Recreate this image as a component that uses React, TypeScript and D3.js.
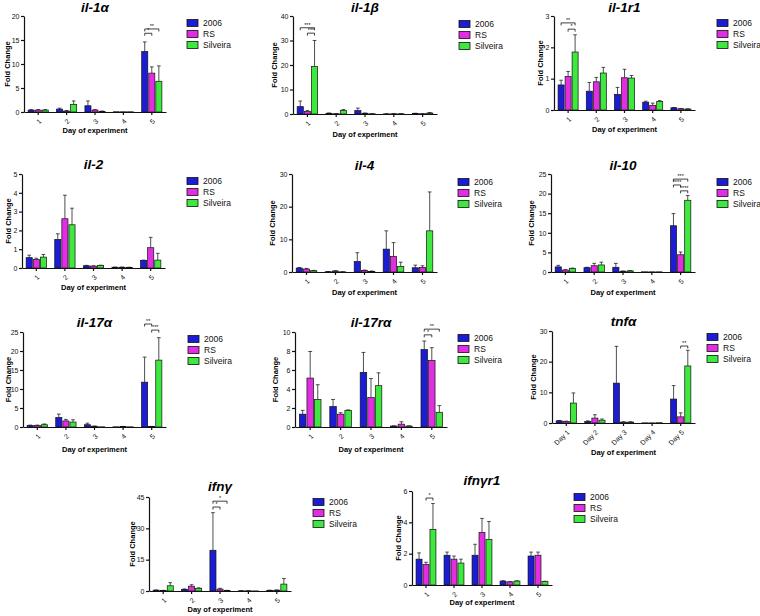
import React, { useEffect, useRef } from 'react';
import * as d3 from 'd3';

const groups = ['2006', 'RS', 'Silveira'];
const colors = ['#1c1cd4', '#e22ee2', '#3ee83e'];
const dayLabels = ['1', '2', '3', '4', '5'];
const tnfDayLabels = ['Day 1', 'Day 2', 'Day 3', 'Day 4', 'Day 5'];

// means per series (2006, RS, Silveira) x day, and top of error bar
const il1aMean = [[0.4, 0.6, 1.3, 0.05, 12.6], [0.4, 0.2, 0.4, 0.05, 8.1], [0.4, 1.6, 0.1, 0.05, 6.4]];
const il1aUpper = [[0.5, 0.8, 2.3, 0.05, 14.6], [0.5, 0.3, 0.5, 0.05, 9.4], [0.5, 2.3, 0.2, 0.05, 9.6]];
const il1bMean = [[3.0, 0.3, 1.4, 0.05, 0.2], [1.0, 0.1, 0.3, 0.1, 0.1], [19.4, 1.4, 0.1, 0.1, 0.4]];
const il1bUpper = [[5.3, 0.4, 2.4, 0.1, 0.3], [1.4, 0.2, 0.4, 0.15, 0.15], [30, 1.8, 0.15, 0.15, 0.6]];
const il1r1Mean = [[0.8, 0.6, 0.5, 0.25, 0.07], [1.07, 0.9, 1.03, 0.15, 0.04], [1.85, 1.18, 1.02, 0.27, 0.03]];
const il1r1Upper = [[0.95, 0.88, 0.72, 0.28, 0.08], [1.23, 1.04, 1.3, 0.22, 0.05], [2.4, 1.36, 1.1, 0.3, 0.04]];
const il2Mean = [[0.55, 1.52, 0.12, 0.04, 0.4], [0.45, 2.62, 0.1, 0.04, 1.08], [0.58, 2.3, 0.13, 0.03, 0.42]];
const il2Upper = [[0.68, 1.82, 0.14, 0.05, 0.42], [0.52, 3.87, 0.12, 0.05, 1.63], [0.72, 3.18, 0.15, 0.04, 0.78]];
const il4Mean = [[1.2, 0.1, 3.2, 7.0, 1.3], [0.9, 0.3, 0.5, 4.8, 1.4], [0.4, 0.05, 0.2, 1.7, 12.6]];
const il4Upper = [[1.4, 0.15, 5.9, 12.6, 2.1], [1.1, 0.4, 0.6, 9.0, 1.9], [0.5, 0.1, 0.3, 3.0, 24.5]];
const il10Mean = [[1.3, 1.1, 1.2, 0.05, 11.8], [0.5, 1.6, 0.2, 0.05, 4.4], [0.9, 1.8, 0.3, 0.05, 18.3]];
const il10Upper = [[1.7, 1.2, 2.2, 0.05, 14.9], [0.6, 2.2, 0.25, 0.05, 5.1], [1.0, 2.5, 0.35, 0.05, 19.5]];
const il17aMean = [[0.4, 2.5, 0.6, 0.05, 11.8], [0.4, 1.6, 0.2, 0.1, 0.1], [0.6, 1.3, 0.05, 0.05, 17.6]];
const il17aUpper = [[0.5, 3.4, 1.0, 0.05, 18.4], [0.5, 2.0, 0.25, 0.15, 0.15], [0.8, 1.9, 0.05, 0.05, 23.5]];
const il17raMean = [[1.35, 2.15, 5.75, 0.1, 8.15], [5.15, 1.35, 3.1, 0.3, 7.0], [2.9, 1.75, 4.35, 0.1, 1.55]];
const il17raUpper = [[1.75, 2.9, 7.85, 0.12, 9.05], [7.95, 1.5, 5.1, 0.55, 8.35], [4.45, 1.8, 5.7, 0.12, 2.25]];
const tnfaMean = [[0.7, 0.5, 13.0, 0.05, 7.8], [0.5, 1.6, 0.3, 0.05, 2.0], [6.5, 0.9, 0.3, 0.1, 18.6]];
const tnfaUpper = [[0.8, 0.7, 25.0, 0.05, 12.2], [0.6, 2.7, 0.4, 0.05, 3.3], [9.8, 1.3, 0.4, 0.1, 23.7]];
const ifngMean = [[0.4, 0.8, 19.5, 0.1, 0.3], [0.2, 2.3, 0.9, 0.1, 0.4], [2.5, 1.3, 0.2, 0.05, 3.3]];
const ifngUpper = [[0.5, 1.0, 37.5, 0.15, 0.4], [0.3, 3.0, 1.3, 0.15, 0.5], [4.0, 1.5, 0.3, 0.05, 6.0]];
const ifngr1Mean = [[1.65, 1.9, 1.9, 0.25, 1.85], [1.3, 1.65, 3.35, 0.2, 1.9], [3.55, 1.4, 2.9, 0.25, 0.22]];
const ifngr1Upper = [[2.05, 2.1, 2.6, 0.27, 2.1], [1.45, 1.85, 4.25, 0.22, 2.1], [5.2, 1.65, 4.05, 0.27, 0.24]];

// significance brackets: [day index, series a, series b, height (axis units), label]
const il1aSig = [[4, 0, 2, 17.3, '**'], [4, 0, 1, 16.4, '*']];
const il1bSig = [[0, 0, 2, 35.2, '***'], [0, 1, 2, 33, '***']];
const il1r1Sig = [[0, 0, 2, 2.78, '**'], [0, 1, 2, 2.58, '*']];
const il10Sig = [[4, 0, 2, 23.7, '***'], [4, 0, 1, 22.2, '****'], [4, 1, 2, 20.7, '****']];
const il17aSig = [[4, 0, 1, 27.1, '**'], [4, 1, 2, 25.5, '***']];
const il17raSig = [[4, 0, 2, 10.3, '**'], [4, 0, 1, 9.7, '*']];
const tnfaSig = [[4, 1, 2, 25.1, '**']];
const ifngSig = [[2, 0, 2, 43, '*'], [2, 0, 1, 40.2, '*']];
const ifngr1Sig = [[0, 1, 2, 5.55, '*']];

const panels = [
  { title: 'il-1α', mean: il1aMean, upper: il1aUpper, sig: il1aSig, yMax: 20, yStep: 5, labels: dayLabels, L: 24, R: 166, T: 16, B: 112, titleY: 12, legX: 187, legY: 23, xTitleY: 133, yTitleX: 7 },
  { title: 'il-1β', mean: il1bMean, upper: il1bUpper, sig: il1bSig, yMax: 40, yStep: 10, labels: dayLabels, L: 293, R: 437, T: 16, B: 114, titleY: 12, legX: 459, legY: 24, xTitleY: 137, yTitleX: 274 },
  { title: 'il-1r1', mean: il1r1Mean, upper: il1r1Upper, sig: il1r1Sig, yMax: 3, yStep: 1, labels: dayLabels, L: 554, R: 695, T: 16, B: 110, titleY: 12, legX: 717, legY: 23, xTitleY: 132, yTitleX: 540 },
  { title: 'il-2', mean: il2Mean, upper: il2Upper, sig: [], yMax: 5, yStep: 1, labels: dayLabels, L: 22, R: 165, T: 174, B: 268, titleY: 169, legX: 187, legY: 181, xTitleY: 290, yTitleX: 8 },
  { title: 'il-4', mean: il4Mean, upper: il4Upper, sig: [], yMax: 30, yStep: 10, labels: dayLabels, L: 292, R: 437, T: 174, B: 272, titleY: 170, legX: 458, legY: 182, xTitleY: 295, yTitleX: 272 },
  { title: 'il-10', mean: il10Mean, upper: il10Upper, sig: il10Sig, yMax: 25, yStep: 5, labels: dayLabels, L: 551, R: 695, T: 174, B: 272, titleY: 170, legX: 717, legY: 182, xTitleY: 295, yTitleX: 531 },
  { title: 'il-17α', mean: il17aMean, upper: il17aUpper, sig: il17aSig, yMax: 25, yStep: 5, labels: dayLabels, L: 23, R: 166, T: 332, B: 427, titleY: 327, legX: 188, legY: 339, xTitleY: 452, yTitleX: 8 },
  { title: 'il-17rα', mean: il17raMean, upper: il17raUpper, sig: il17raSig, yMax: 10, yStep: 2, labels: dayLabels, L: 295, R: 447, T: 332, B: 427, titleY: 327, legX: 458, legY: 338, xTitleY: 452, yTitleX: 275 },
  { title: 'tnfα', mean: tnfaMean, upper: tnfaUpper, sig: tnfaSig, yMax: 30, yStep: 10, labels: tnfDayLabels, L: 552, R: 695, T: 331, B: 423, titleY: 326, legX: 707, legY: 337, xTitleY: 455, yTitleX: 533 },
  { title: 'ifnγ', mean: ifngMean, upper: ifngUpper, sig: ifngSig, yMax: 45, yStep: 15, labels: dayLabels, L: 149, R: 291, T: 497, B: 591, titleY: 491, legX: 313, legY: 502, xTitleY: 612, yTitleX: 132 },
  { title: 'ifnγr1', mean: ifngr1Mean, upper: ifngr1Upper, sig: ifngr1Sig, yMax: 6, yStep: 2, labels: dayLabels, L: 412, R: 552, T: 491, B: 585, titleY: 485, legX: 574, legY: 497, xTitleY: 605, yTitleX: 398 },
];

const font = "'Liberation Sans', Arial, sans-serif";

const App = () => {
  const svgRef = useRef<SVGSVGElement>(null);

  useEffect(() => {
    const svg = d3.select(svgRef.current);
    svg.selectAll('*').remove();

    panels.forEach(p => {
      const g = svg.append('g');

      const x0 = d3.scaleBand<string>()
        .domain(p.labels)
        .range([p.L, p.R])
        .paddingInner(0.22)
        .paddingOuter(0.11);

      const x1 = d3.scaleBand<string>()
        .domain(groups)
        .range([0, x0.bandwidth()])
        .padding(0.14);

      const y = d3.scaleLinear()
        .domain([0, p.yMax])
        .range([p.B, p.T]);

      // bars
      groups.forEach((grp, s) => {
        p.labels.forEach((lab, d) => {
          const bx = (x0(lab) as number) + (x1(grp) as number);
          const w = x1.bandwidth();
          const v = p.mean[s][d];
          const up = p.upper[s][d];
          if (up > v) {
            const cx = bx + w / 2;
            g.append('line')
              .attr('x1', cx).attr('x2', cx)
              .attr('y1', y(v)).attr('y2', y(up))
              .attr('stroke', '#222').attr('stroke-width', 0.8);
            g.append('line')
              .attr('x1', cx - w * 0.3).attr('x2', cx + w * 0.3)
              .attr('y1', y(up)).attr('y2', y(up))
              .attr('stroke', '#222').attr('stroke-width', 0.8);
          }
          g.append('rect')
            .attr('x', bx)
            .attr('y', y(v))
            .attr('width', w)
            .attr('height', p.B - y(v))
            .attr('fill', colors[s])
            .attr('stroke', '#111')
            .attr('stroke-width', 0.7);
        });
      });

      // axes
      const yAxis = g.append('g')
        .attr('transform', `translate(${p.L},0)`)
        .call(d3.axisLeft(y)
          .tickValues(d3.range(0, p.yMax + 0.001, p.yStep))
          .tickFormat(d3.format('d'))
          .tickSize(3)
          .tickSizeOuter(0)
          .tickPadding(1.5));
      yAxis.selectAll('text').attr('font-size', 7).attr('font-family', font).attr('fill', '#111');
      yAxis.selectAll('line, path').attr('stroke', '#111').attr('stroke-width', 1.2);

      const xAxis = g.append('g')
        .attr('transform', `translate(0,${p.B})`)
        .call(d3.axisBottom(x0).tickSize(3).tickSizeOuter(0));
      xAxis.selectAll('line, path').attr('stroke', '#111').attr('stroke-width', 1.2);
      xAxis.selectAll('text')
        .attr('font-size', 7)
        .attr('font-family', font)
        .attr('fill', '#111')
        .attr('y', 0)
        .attr('dy', '0.35em')
        .attr('text-anchor', 'end')
        .attr('transform', 'translate(2,8) rotate(-45)');

      // significance brackets
      p.sig.forEach(([d, a, b, h, label]: any) => {
        const lab = p.labels[d];
        const xa = (x0(lab) as number) + (x1(groups[a]) as number) + x1.bandwidth() / 2;
        const xb = (x0(lab) as number) + (x1(groups[b]) as number) + x1.bandwidth() / 2;
        const yy = y(h);
        g.append('path')
          .attr('d', `M${xa},${yy + 2.5}V${yy}H${xb}V${yy + 2.5}`)
          .attr('fill', 'none')
          .attr('stroke', '#111')
          .attr('stroke-width', 0.8);
        g.append('text')
          .attr('x', (xa + xb) / 2)
          .attr('y', yy - 1.2)
          .attr('text-anchor', 'middle')
          .attr('font-size', 5.5)
          .attr('font-family', font)
          .attr('fill', '#111')
          .text(label);
      });

      // titles
      g.append('text')
        .attr('x', (p.L + p.R) / 2)
        .attr('y', p.titleY)
        .attr('text-anchor', 'middle')
        .attr('font-size', 13.5)
        .attr('font-weight', 'bold')
        .attr('font-style', 'italic')
        .attr('font-family', font)
        .text(p.title);

      g.append('text')
        .attr('x', (p.L + p.R) / 2)
        .attr('y', p.xTitleY)
        .attr('text-anchor', 'middle')
        .attr('font-size', 7.5)
        .attr('font-weight', 'bold')
        .attr('font-family', font)
        .text('Day of experiment');

      g.append('text')
        .attr('transform', `translate(${p.yTitleX},${(p.T + p.B) / 2}) rotate(-90)`)
        .attr('text-anchor', 'middle')
        .attr('dy', '0.35em')
        .attr('font-size', 7.5)
        .attr('font-weight', 'bold')
        .attr('font-family', font)
        .text('Fold Change');

      // legend
      groups.forEach((grp, s) => {
        const ly = p.legY + s * 11;
        g.append('rect')
          .attr('x', p.legX)
          .attr('y', ly - 3.5)
          .attr('width', 11)
          .attr('height', 7)
          .attr('fill', colors[s])
          .attr('stroke', '#111')
          .attr('stroke-width', 0.8);
        g.append('text')
          .attr('x', p.legX + 16)
          .attr('y', ly)
          .attr('dy', '0.35em')
          .attr('font-size', 8.5)
          .attr('font-family', font)
          .attr('fill', '#111')
          .text(grp);
      });
    });
  }, []);

  return (
    <svg
      ref={svgRef}
      width={760}
      height={616}
      style={{ position: 'absolute', left: 0, top: 0, background: '#fff' }}
    />
  );
};

export default App;
